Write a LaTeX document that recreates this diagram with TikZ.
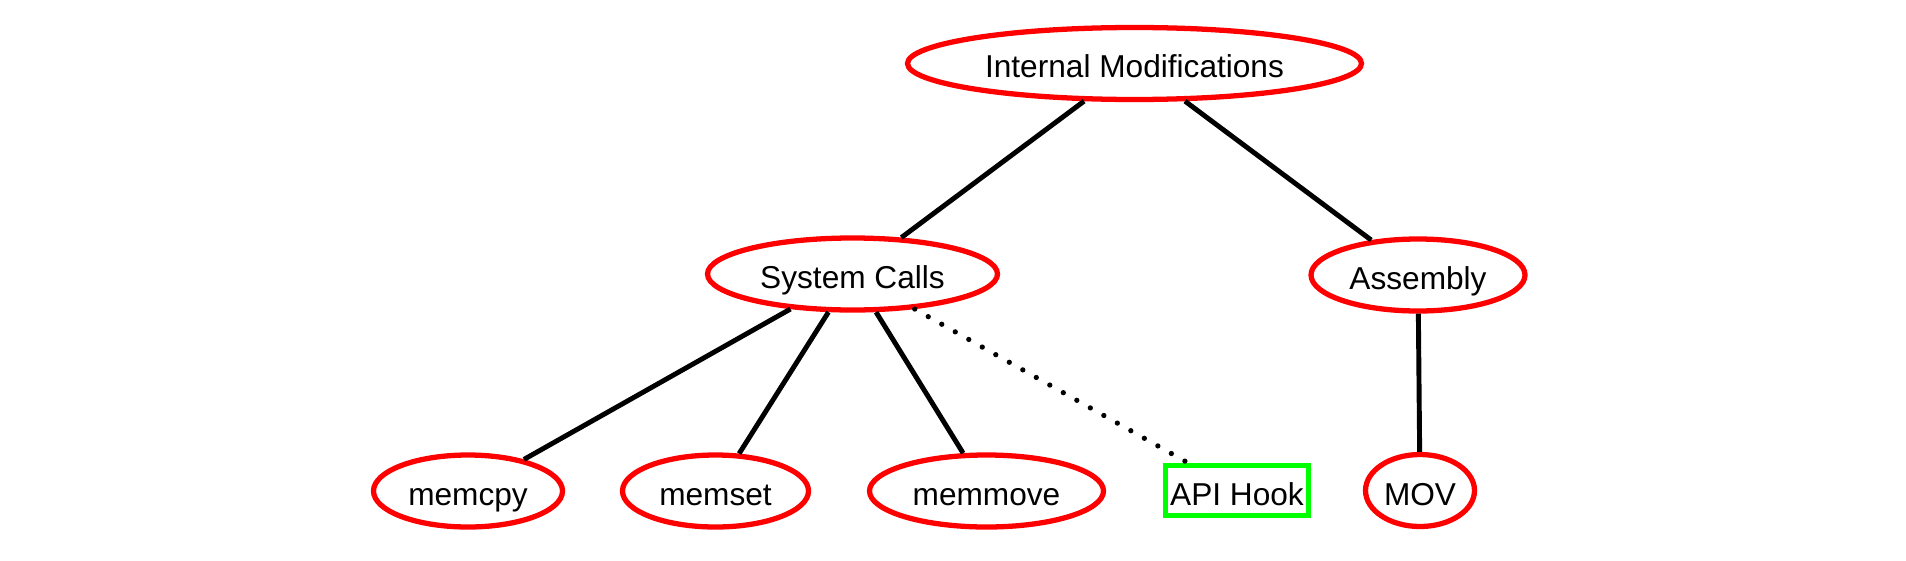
\documentclass[tikz,border=0pt]{standalone}
\usepackage{fontspec}
\setmainfont{Liberation Sans}
\usetikzlibrary{shapes.geometric}
\definecolor{hookgreen}{HTML}{00FF00}
\tikzset{
  topic/.style={ellipse, draw=red, line width=1.5pt, inner sep=0pt, minimum height=0.72cm,
    text height=0.29cm, text depth=0pt},
  hook/.style={rectangle, draw=hookgreen, line width=1.5pt, inner sep=0pt, minimum width=1.43cm, minimum height=0.50cm,
    text height=0.29cm, text depth=0pt},
  link/.style={line width=1.4pt},
  weak/.style={line width=1.5pt, line cap=round, dash pattern=on 0pt off 0.155cm}
}

\begin{document}
\begin{tikzpicture}[every node/.style={font=\fontsize{9}{11}\selectfont}]
      \useasboundingbox (0,0) rectangle (19.06,-5.6);
      \node[topic, minimum width=4.54cm] (IM) at (11.345,-0.635) {Internal Modifications};
      \node[topic, minimum width=2.90cm] (SC) at (8.525,-2.74) {System Calls};
      \node[topic, minimum width=2.14cm] (AS) at (14.18,-2.75) {Assembly};
      \node[topic, minimum width=1.89cm] (cpy) at (4.68,-4.91) {memcpy};
      \node[topic, minimum width=1.86cm] (set) at (7.155,-4.91) {memset};
      \node[topic, minimum width=2.34cm] (move) at (9.865,-4.91) {memmove};
      \node[hook] (api) at (12.37,-4.905) {API Hook};
      \node[topic, minimum width=1.09cm] (mov) at (14.20,-4.905) {MOV};
      \draw[link] (IM) -- (SC);
      \draw[link] (IM) -- (AS);
      \draw[link] (SC) -- (cpy);
      \draw[link] (SC) -- (set);
      \draw[link] (SC) -- (move);
      \draw[weak] (SC) -- (api);
      \draw[link] (AS) -- (mov);
    \end{tikzpicture}
\end{document}
